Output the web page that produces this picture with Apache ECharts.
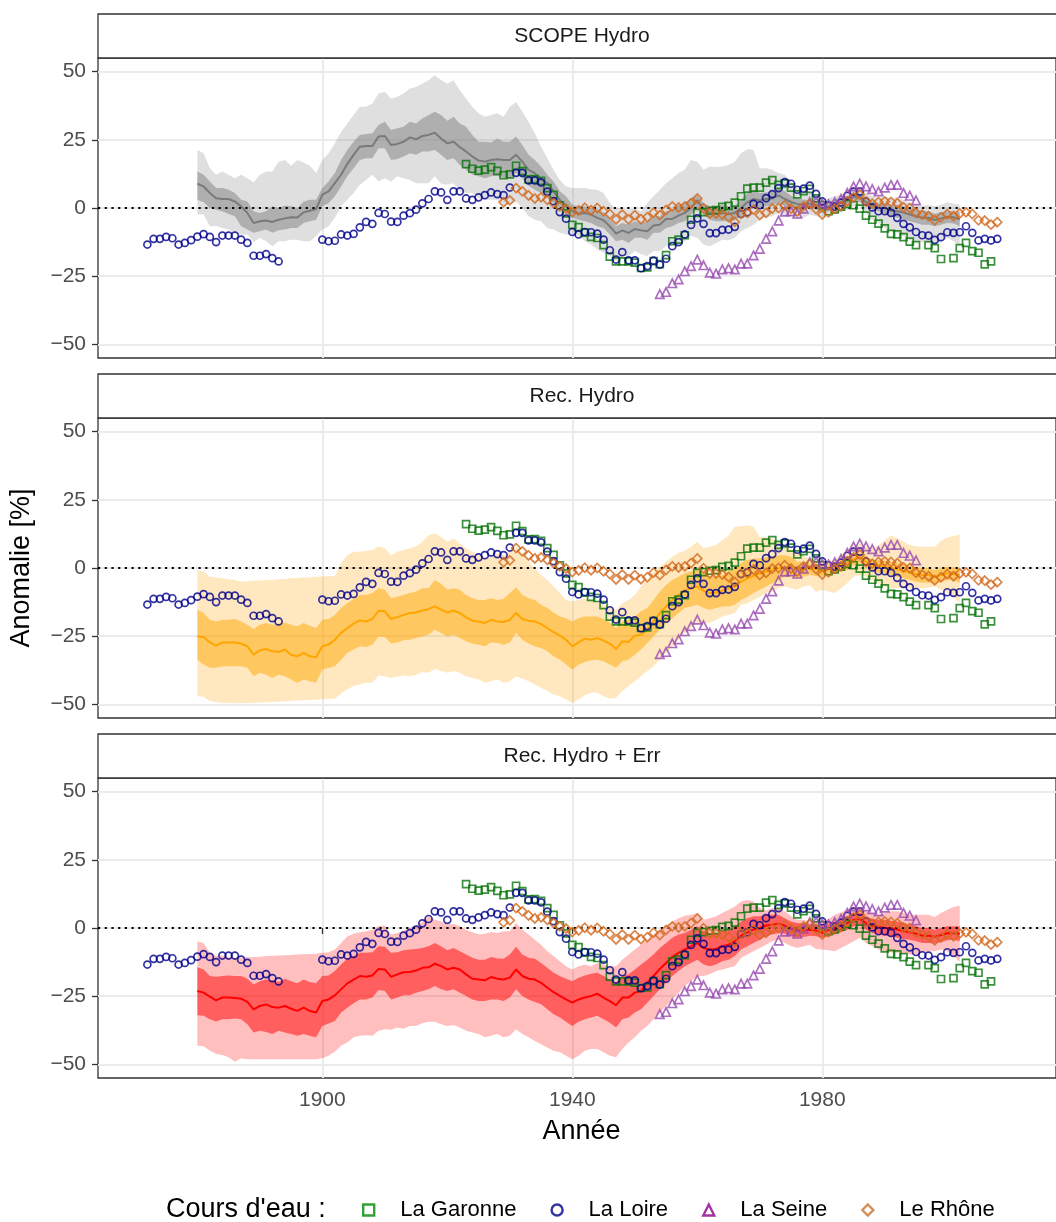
<!DOCTYPE html>
<html><head><meta charset="utf-8">
<script src="https://cdn.jsdelivr.net/npm/echarts@6/dist/echarts.min.js"></script>
<style>html,body{margin:0;padding:0;background:#fff}#c{width:1056px;height:1222px}</style>
</head><body><div id="c"></div>
<script>
// ---------------- DATA ----------------
const panelTitles = ['SCOPE Hydro', 'Rec. Hydro', 'Rec. Hydro + Err'];
const riverNames = ['La Garonne', 'La Loire', 'La Seine', 'Le Rhône'];
const xTicks = [1900, 1940, 1980];
const yTicks = [-50, -25, 0, 25, 50];

// Ensemble bands, yearly from 1880 to 2002
const BAND_START = 1880;

// Panel 1 : SCOPE Hydro
const scopeOuterLow = [
 -2.4,-2.4,-6.7,-6.7,-7.3,-7.9,-9.1,-9.7,-9.7,-12.5,
 -10.9,-12.2,-14.0,-12.2,-12.2,-11.6,-11.6,-12.2,-12.2,-10.3,
 -7.9,-6.7,-3.6,0.6,3.0,5.5,8.5,10.3,12.2,9.7,
 10.9,9.7,11.6,10.9,10.3,9.1,9.1,9.1,11.6,8.9,
 8.5,9.1,6.1,5.5,5.5,3.6,3.0,3.0,3.0,0.6,
 1.2,2.4,0.0,-3.0,-4.3,-4.9,-7.3,-7.9,-9.1,-9.7,
 -9.7,-10.3,-12.2,-13.4,-15.2,-16.4,-17.6,-19.5,-17.6,-17.6,
 -15.8,-17.0,-17.6,-15.8,-15.8,-14.0,-12.8,-13.4,-12.2,-10.3,
 -10.9,-13.4,-14.0,-12.8,-11.6,-11.8,-10.9,-8.5,-7.3,-6.1,
 -4.3,-3.6,-3.0,-1.8,-3.0,-3.0,-4.0,-3.6,-2.4,-3.0,
 -3.6,-3.0,-2.4,-1.6,-0.6,0.6,0.6,-1.8,-4.3,-5.5,
 -7.3,-8.5,-9.1,-10.3,-11.6,-12.2,-12.5,-12.8,-13.4,-12.2,
 -10.9,-12.2,-14.0];
const scopeInnerLow = [
 3.0,2.1,0.0,-0.6,-1.2,-2.2,-3.0,-6.7,-7.9,-9.1,
 -8.5,-7.9,-9.1,-8.2,-7.9,-7.3,-7.3,-5.5,-4.9,-4.3,
 0.6,1.8,4.3,7.9,11.6,14.6,17.6,18.2,18.2,21.9,
 21.9,17.6,18.0,18.9,20.1,19.5,20.7,20.7,21.3,19.5,
 17.6,18.2,15.8,14.0,12.2,11.6,10.9,11.6,11.8,10.9,
 10.9,12.8,10.9,8.2,6.7,5.5,3.6,1.8,0.0,-1.8,
 -3.6,-4.3,-4.9,-5.5,-6.7,-7.3,-9.7,-12.2,-11.6,-12.8,
 -10.9,-10.9,-11.6,-9.1,-9.1,-7.3,-6.7,-5.5,-4.9,-2.4,
 0.0,-2.4,-4.3,-4.9,-4.9,-4.9,-4.5,-3.0,-1.2,0.0,
 0.0,0.6,0.9,1.8,0.6,0.0,-0.9,-0.6,0.0,-0.6,
 -1.8,-1.2,-0.4,0.6,1.2,2.4,2.4,0.6,-0.6,-1.2,
 -2.1,-3.0,-3.6,-4.0,-4.9,-5.5,-6.1,-6.1,-6.7,-6.1,
 -5.5,-5.7,-6.7];
const scopeMedian = [
 8.9,7.9,5.5,3.6,3.3,3.3,2.4,0.6,-1.8,-5.5,
 -4.9,-4.6,-5.1,-4.3,-3.8,-3.4,-3.5,-1.6,-1.0,-0.4,
 4.9,6.1,9.1,12.2,16.2,19.5,22.5,22.7,22.7,26.2,
 26.4,23.1,23.5,24.3,25.9,25.2,26.4,26.8,27.6,25.5,
 23.7,24.3,22.3,20.7,18.9,17.4,17.0,17.6,17.9,17.6,
 17.6,19.5,17.0,14.0,12.8,10.3,9.1,6.1,3.0,0.6,
 -1.2,-2.1,-1.8,-2.4,-3.6,-4.5,-6.7,-9.4,-8.2,-9.1,
 -7.7,-8.2,-8.5,-6.4,-6.1,-4.0,-4.0,-2.8,-1.8,0.0,
 2.8,-0.4,-1.8,-2.1,-1.8,-2.2,-1.8,0.0,2.1,3.3,
 2.8,3.3,3.5,4.6,3.3,2.2,1.5,1.2,1.6,1.0,
 0.0,0.6,1.3,2.1,2.8,4.0,4.0,2.1,1.0,0.4,
 -0.1,-0.9,-1.2,-1.7,-2.4,-3.0,-3.6,-3.6,-4.4,-3.8,
 -3.3,-3.4,-4.1];
const scopeInnerHigh = [
 13.4,12.2,9.7,7.3,7.3,6.7,5.5,3.0,2.4,-1.2,
 -1.8,-1.2,0.6,0.0,0.9,0.6,0.0,2.4,3.0,3.0,
 7.3,9.7,12.8,17.6,21.3,24.3,26.8,27.1,27.4,30.4,
 31.6,28.6,29.2,29.8,31.6,31.0,32.8,34.1,35.3,34.1,
 32.0,33.5,31.0,29.8,26.8,24.3,24.3,24.0,25.5,24.3,
 24.3,26.2,23.1,19.5,17.6,15.2,12.2,9.7,6.1,4.3,
 1.2,0.6,0.6,0.0,-0.4,-1.6,-4.0,-6.7,-5.5,-6.1,
 -4.9,-5.5,-4.9,-3.0,-3.0,-1.2,-0.6,1.2,1.8,3.6,
 4.9,1.8,0.6,0.6,1.2,0.6,0.6,3.0,5.5,6.7,
 5.5,5.7,6.1,7.3,6.1,4.5,3.6,3.0,3.0,2.4,
 1.8,2.4,3.0,3.6,4.3,5.5,5.5,3.6,2.4,1.8,
 1.8,1.2,1.2,0.6,0.0,-0.6,-1.2,-1.2,-2.1,-1.6,
 -1.2,-1.2,-1.6];
const scopeOuterHigh = [
 21.3,20.1,14.6,12.2,13.4,12.2,10.9,12.2,10.9,9.4,
 12.2,13.4,13.4,17.0,17.6,15.5,17.6,16.7,15.5,12.8,
 17.6,20.1,23.7,28.0,31.0,34.1,37.1,37.1,38.3,42.0,
 42.6,40.1,40.8,42.0,43.8,44.4,45.6,46.8,48.7,46.8,
 45.6,46.8,43.2,40.1,37.1,34.7,33.5,34.1,34.7,33.5,
 37.1,38.9,35.3,31.6,27.4,22.5,18.2,14.0,10.3,7.9,
 7.3,7.3,7.3,6.9,6.7,5.5,1.8,0.0,0.0,-0.6,
 0.0,-1.2,1.8,4.3,6.7,9.1,10.9,12.8,14.0,17.6,
 17.0,14.0,15.2,15.0,15.2,15.8,17.0,20.1,21.5,21.3,
 14.6,14.6,14.0,12.8,12.2,9.7,7.3,6.7,6.1,4.9,
 3.0,3.6,4.3,4.9,6.1,7.9,7.3,5.5,4.3,3.6,
 4.3,3.6,4.0,3.0,1.8,1.2,0.6,1.2,0.6,1.2,
 2.1,1.6,1.2];

// Panel 2 : Rec. Hydro
const recOuterLow = [
 -47.0,-47.2,-48.8,-49.1,-49.4,-49.4,-49.6,-49.6,-49.5,-49.4,
 -49.3,-49.2,-49.1,-49.0,-48.9,-48.8,-48.6,-48.5,-48.4,-48.3,
 -48.1,-48.0,-47.9,-46.0,-44.5,-43.3,-42.7,-42.1,-42.1,-39.4,
 -39.7,-40.3,-39.9,-39.4,-39.7,-39.1,-38.2,-38.4,-37.0,-37.8,
 -38.4,-37.8,-38.4,-39.7,-40.3,-40.9,-42.1,-41.5,-40.9,-42.1,
 -41.5,-39.7,-40.6,-41.5,-42.7,-43.9,-45.1,-46.4,-47.0,-48.2,
 -49.4,-48.2,-46.7,-45.7,-45.7,-47.0,-47.9,-47.6,-45.1,-43.3,
 -41.5,-39.7,-37.8,-36.0,-33.6,-31.1,-28.7,-26.3,-23.8,-22.0,
 -20.2,-20.2,-20.2,-19.0,-17.8,-17.2,-16.5,-13.5,-12.9,-11.7,
 -10.5,-9.2,-8.6,-7.4,-6.8,-7.4,-8.0,-6.8,-6.2,-8.7,
 -8.0,-8.6,-9.2,-7.4,-5.6,-3.2,-2.6,-3.2,-4.4,-5.6,
 -6.8,-7.4,-7.4,-7.4,-7.4,-7.4,-7.4,-7.2,-6.8,-8.0,
 -9.2,-10.5,-12.9];
const recInnerLow = [
 -33.6,-35.4,-36.6,-36.6,-36.0,-36.0,-36.0,-36.0,-36.6,-39.7,
 -38.4,-39.1,-40.3,-39.1,-39.7,-40.9,-42.1,-40.9,-41.5,-42.1,
 -37.2,-36.6,-36.0,-33.6,-31.1,-29.9,-28.7,-29.0,-28.1,-25.1,
 -25.3,-27.7,-27.3,-26.5,-26.3,-25.7,-25.1,-24.5,-22.6,-23.8,
 -25.1,-24.5,-25.7,-26.9,-27.7,-28.1,-28.7,-27.3,-27.5,-28.1,
 -27.3,-23.8,-26.3,-27.7,-28.7,-29.3,-30.5,-32.4,-33.6,-35.4,
 -37.2,-35.4,-34.5,-33.8,-33.6,-34.2,-35.4,-36.6,-34.2,-33.6,
 -31.8,-29.9,-27.5,-25.1,-22.6,-20.2,-18.4,-16.5,-14.7,-14.1,
 -13.5,-14.7,-15.3,-14.7,-14.1,-14.1,-13.5,-11.7,-10.5,-9.2,
 -8.0,-6.8,-5.6,-4.4,-3.2,-3.2,-3.8,-3.2,-2.6,-2.9,
 -3.2,-2.6,-1.9,-1.3,-0.7,1.1,1.7,-0.1,-1.3,-1.7,
 -1.9,-2.6,-3.2,-3.8,-4.4,-5.0,-5.4,-5.4,-5.8,-5.0,
 -4.4,-4.6,-5.4];
const recMedian = [
 -25.1,-25.3,-27.3,-28.5,-27.3,-27.3,-27.3,-27.7,-28.7,-31.8,
 -30.2,-29.7,-30.5,-30.8,-29.9,-31.8,-32.4,-31.1,-32.4,-32.7,
 -28.7,-28.1,-26.3,-23.8,-22.0,-20.4,-19.2,-19.6,-18.7,-15.7,
 -15.9,-18.7,-18.0,-17.2,-16.5,-16.3,-15.6,-15.1,-14.1,-15.3,
 -16.3,-15.6,-16.5,-18.1,-19.3,-19.6,-20.2,-19.0,-19.6,-19.8,
 -19.0,-16.5,-18.7,-19.3,-19.6,-20.6,-22.0,-23.5,-24.8,-26.3,
 -28.7,-27.3,-25.9,-26.3,-25.7,-26.6,-27.7,-29.7,-26.9,-27.1,
 -24.8,-24.5,-22.6,-19.6,-16.5,-14.1,-11.7,-9.9,-8.3,-7.4,
 -6.8,-8.3,-9.2,-9.0,-8.3,-7.4,-6.8,-5.0,-3.8,-2.9,
 -2.0,-1.4,-0.8,-0.1,0.5,0.2,-0.7,-0.4,-0.1,-0.5,
 -1.0,-0.5,-0.1,1.1,1.7,3.2,3.9,2.3,1.1,0.9,
 0.5,0.1,-0.5,-1.0,-1.7,-2.2,-2.6,-2.6,-3.2,-2.6,
 -1.9,-2.2,-2.6];
const recInnerHigh = [
 -15.3,-16.5,-19.0,-19.6,-19.0,-19.0,-18.7,-19.6,-20.8,-22.4,
 -20.8,-20.2,-20.8,-20.4,-20.0,-20.8,-21.4,-20.2,-21.2,-22.0,
 -19.0,-18.7,-17.2,-14.7,-12.9,-11.4,-9.9,-9.9,-9.2,-7.4,
 -8.0,-11.1,-10.5,-9.9,-9.2,-8.6,-7.4,-7.4,-4.4,-5.8,
 -8.0,-7.4,-8.0,-9.9,-11.1,-11.7,-11.7,-11.1,-11.7,-11.4,
 -9.2,-7.1,-9.9,-11.1,-11.7,-13.5,-14.7,-16.3,-17.8,-18.4,
 -19.6,-18.4,-17.8,-17.8,-17.8,-18.7,-20.2,-22.0,-19.6,-19.0,
 -17.8,-15.9,-14.7,-11.7,-8.6,-6.2,-4.4,-3.2,-1.9,-1.3,
 -0.7,-1.9,-3.2,-3.2,-2.6,-1.3,-0.1,1.7,2.9,3.5,
 3.5,3.9,4.1,4.7,4.7,4.1,2.3,2.3,1.7,1.5,
 1.1,1.5,1.7,2.9,3.5,4.7,5.4,4.1,2.9,2.9,
 2.7,2.3,1.9,1.5,0.7,0.2,-0.1,-0.1,-0.7,-0.1,
 0.5,0.2,-0.1];
const recOuterHigh = [
 -0.7,-1.3,-3.2,-3.5,-3.8,-4.1,-4.4,-5.0,-4.9,-4.7,
 -4.6,-4.4,-4.3,-4.1,-4.0,-3.8,-3.7,-3.5,-3.4,-3.2,
 -3.1,-2.9,-2.9,1.7,4.7,6.0,6.0,6.3,6.6,8.0,
 7.2,4.7,6.0,6.6,7.2,8.0,9.6,12.0,12.7,11.4,
 9.6,10.8,9.0,7.2,6.0,4.7,3.5,4.1,5.4,4.7,
 6.0,7.8,5.4,2.3,-0.1,-2.6,-4.4,-6.8,-9.2,-11.7,
 -12.3,-11.7,-11.1,-11.7,-12.3,-13.5,-14.1,-15.3,-12.9,-11.7,
 -9.9,-6.8,-4.4,-1.3,0.5,2.3,4.1,5.6,6.3,7.8,
 9.6,7.2,7.8,8.4,10.2,12.0,15.1,15.3,15.7,15.1,
 11.4,11.2,10.8,9.6,7.8,6.8,6.0,4.7,2.9,2.7,
 2.3,2.7,2.9,4.7,6.6,8.0,9.0,8.0,7.2,8.4,
 10.2,12.0,10.8,9.6,8.4,8.0,7.8,7.8,7.8,10.0,
 11.2,11.7,12.3];

// Panel 3 : Rec. Hydro + Err
const errOuterLow = [
 -43.2,-43.4,-45.0,-46.2,-46.6,-47.4,-49.0,-47.8,-48.1,-48.1,
 -48.1,-48.1,-48.1,-48.1,-48.1,-48.1,-48.1,-48.1,-48.1,-48.1,
 -47.8,-46.8,-45.4,-43.2,-42.0,-40.1,-39.5,-39.3,-39.5,-37.7,
 -37.1,-37.3,-36.5,-36.9,-35.9,-35.9,-34.9,-34.4,-34.4,-35.3,
 -35.9,-35.6,-36.5,-37.7,-38.3,-38.9,-40.1,-39.5,-38.9,-40.1,
 -39.5,-37.1,-38.9,-40.1,-41.4,-42.6,-43.8,-45.0,-45.6,-46.8,
 -48.1,-46.8,-45.0,-44.4,-44.4,-45.6,-46.8,-47.4,-44.4,-42.0,
 -40.1,-37.7,-35.9,-33.5,-31.0,-28.6,-26.2,-23.7,-21.3,-19.5,
 -17.6,-17.6,-17.0,-15.8,-15.2,-14.6,-14.0,-10.9,-9.7,-8.5,
 -7.3,-6.1,-4.9,-4.3,-5.5,-6.7,-7.3,-6.7,-6.1,-7.7,
 -7.9,-8.2,-8.5,-7.3,-6.1,-4.9,-3.6,-5.5,-6.7,-7.9,
 -8.5,-8.9,-9.1,-9.1,-9.7,-9.7,-9.1,-8.5,-8.5,-7.9,
 -8.5,-10.3,-12.5];
const errInnerLow = [
 -32.0,-32.2,-33.5,-34.3,-33.5,-33.5,-33.2,-33.5,-35.3,-38.3,
 -37.7,-38.1,-38.9,-37.7,-38.3,-38.9,-39.5,-38.9,-39.5,-40.1,
 -35.9,-35.0,-34.1,-31.0,-29.2,-27.6,-26.2,-26.2,-25.5,-22.7,
 -23.1,-26.2,-25.5,-24.7,-24.7,-23.7,-23.1,-22.5,-21.3,-22.5,
 -23.1,-22.5,-23.7,-24.9,-26.2,-26.8,-26.8,-26.2,-26.2,-26.8,
 -25.5,-22.5,-24.9,-26.2,-27.1,-28.0,-29.8,-31.6,-32.8,-34.4,
 -35.9,-34.4,-33.5,-32.8,-32.2,-33.5,-34.7,-36.5,-33.5,-32.8,
 -31.0,-29.8,-27.4,-24.9,-22.5,-20.1,-17.6,-15.8,-14.0,-12.8,
 -11.6,-13.4,-14.0,-13.4,-12.2,-11.6,-10.3,-7.9,-6.7,-5.5,
 -4.3,-3.0,-2.4,-1.8,-2.1,-3.0,-3.6,-3.3,-2.8,-3.0,
 -3.6,-3.0,-2.4,-1.6,-0.6,0.6,0.9,-0.6,-1.8,-2.4,
 -2.8,-3.0,-3.6,-4.0,-4.3,-4.9,-5.5,-5.5,-5.7,-5.2,
 -4.5,-4.3,-4.9];
const errMedian = [
 -23.1,-23.7,-25.2,-26.5,-25.5,-25.5,-25.7,-25.9,-27.1,-29.8,
 -28.6,-28.0,-29.0,-29.2,-28.6,-29.6,-30.4,-29.2,-30.4,-31.0,
 -26.8,-26.2,-24.7,-22.5,-20.3,-18.9,-17.6,-17.9,-17.4,-15.0,
 -15.2,-17.9,-17.0,-16.2,-16.1,-15.6,-14.6,-14.4,-13.1,-14.0,
 -15.2,-14.6,-15.2,-17.0,-18.6,-18.9,-19.2,-18.0,-18.6,-18.9,
 -18.2,-15.2,-17.6,-18.6,-18.9,-20.1,-21.9,-23.5,-24.9,-26.2,
 -27.4,-26.2,-25.5,-24.9,-24.1,-25.5,-26.8,-28.3,-25.5,-25.5,
 -23.7,-23.1,-20.1,-17.6,-15.0,-12.8,-10.6,-9.1,-7.9,-6.7,
 -5.5,-7.3,-7.9,-7.7,-6.7,-6.1,-4.9,-2.8,-1.6,-0.6,
 0.0,0.9,1.2,1.6,0.9,-0.4,-0.9,-0.9,-0.6,-0.9,
 -1.6,-0.7,0.0,0.9,1.8,3.0,3.3,1.8,0.7,0.4,
 0.1,-0.1,-0.6,-1.1,-1.6,-2.1,-2.8,-2.8,-3.2,-2.6,
 -1.9,-1.8,-2.1];
const errInnerHigh = [
 -14.4,-15.2,-17.6,-17.9,-17.6,-17.4,-17.6,-17.6,-18.6,-20.7,
 -19.5,-18.9,-19.2,-19.8,-18.6,-19.5,-20.3,-18.9,-19.8,-20.3,
 -17.6,-17.4,-15.8,-13.4,-11.3,-10.3,-9.1,-9.1,-8.9,-6.7,
 -6.9,-9.1,-8.9,-8.2,-7.9,-7.7,-7.3,-6.7,-5.5,-6.7,
 -8.2,-7.3,-8.5,-9.7,-10.9,-11.6,-11.6,-10.6,-11.2,-11.3,
 -9.7,-6.9,-9.7,-10.9,-11.3,-12.8,-14.6,-16.4,-17.6,-18.6,
 -19.5,-18.2,-17.4,-16.8,-16.4,-17.6,-18.9,-20.1,-17.6,-17.0,
 -15.2,-13.4,-11.6,-9.7,-7.3,-5.5,-3.6,-2.4,-1.8,-0.6,
 0.6,-1.2,-1.8,-2.1,-1.2,-0.6,0.6,2.4,3.6,4.3,
 4.3,4.9,4.9,4.9,3.6,2.4,1.8,1.6,1.6,1.2,
 0.6,1.6,2.4,3.3,4.3,5.5,5.7,4.3,3.3,3.0,
 3.0,2.7,2.4,1.8,1.2,0.6,0.0,0.0,-0.6,0.0,
 0.6,0.6,0.6];
const errOuterHigh = [
 -4.9,-5.5,-9.1,-10.3,-10.1,-10.6,-10.9,-10.9,-10.7,-10.6,
 -10.5,-10.3,-10.2,-10.1,-10.0,-9.9,-9.7,-9.6,-9.5,-9.4,
 -9.1,-8.9,-7.9,-5.5,-3.0,-2.1,-1.6,-1.2,-0.6,0.6,
 0.9,-2.4,-1.8,-0.9,0.0,0.6,2.4,4.3,3.0,2.4,
 1.2,1.6,0.6,-0.6,-1.6,-2.4,-2.1,-1.5,-1.8,-1.2,
 -1.2,1.8,-0.6,-2.4,-4.3,-6.1,-8.5,-10.3,-12.2,-14.0,
 -15.2,-14.0,-13.4,-14.0,-12.8,-13.4,-14.0,-14.0,-11.6,-9.7,
 -7.9,-6.1,-4.3,-2.4,-0.6,0.6,2.4,3.6,4.5,4.9,
 5.5,3.0,3.6,4.3,5.5,6.7,7.9,9.7,10.3,9.7,
 7.3,6.4,7.3,7.3,6.1,4.3,3.0,3.0,2.4,2.4,
 2.4,3.3,4.9,5.7,6.7,7.9,7.7,6.1,5.5,4.9,
 5.5,6.1,6.1,5.5,4.9,4.9,4.9,4.9,4.0,5.5,
 6.7,7.7,8.2];

// Rivers (observed anomalies, %), yearly; null = missing year
const GARONNE_START = 1923;
const garonne = [
 16.1,14.4,13.7,14.1,15.0,13.6,12.0,12.3,15.5,13.5,
 10.5,10.6,10.0,7.3,4.8,1.0,-2.0,-6.2,-7.0,-9.0,
 -10.6,-11.0,-13.6,-17.8,-19.6,-19.6,-19.6,-20.0,-22.0,-21.8,
 -19.5,-20.6,-17.3,-12.2,-11.6,-10.0,-4.3,-1.8,-1.5,-1.0,
 -0.8,0.4,0.8,2.0,4.3,7.1,7.5,7.5,9.3,10.2,
 8.5,9.0,7.5,5.0,6.2,7.0,3.5,1.0,-1.2,-0.5,
 0.5,1.5,1.0,-0.2,-2.8,-4.3,-5.7,-7.5,-9.5,-9.7,
 -10.7,-12.3,-13.6,null,-13.6,-14.7,-18.7,null,-18.4,-14.7,
 -12.8,-15.8,-16.4,-20.7,-19.6];
const LOIRE_START = 1872;
const loire = [
 -13.4,-11.3,-11.3,-10.6,-11.1,-13.4,-12.8,-11.8,-10.5,-9.6,
 -10.6,-12.5,-10.1,-10.1,-10.1,-11.6,-12.8,-17.5,-17.5,-16.9,
 -18.4,-19.6,null,null,null,null,null,null,-11.6,-12.2,
 -12.0,-9.7,-10.1,-9.5,-7.1,-5.1,-5.8,-1.8,-2.2,-5.0,
 -5.1,-2.8,-1.9,-0.6,1.7,3.3,6.1,5.7,3.0,6.1,
 6.1,3.5,3.0,3.9,4.7,5.7,5.1,4.7,7.5,12.9,
 12.9,10.1,10.1,9.4,6.0,2.5,-1.5,-3.9,-8.8,-9.7,
 -8.8,-8.9,-9.4,-11.6,-15.5,-18.9,-16.2,-19.2,-19.2,-22.1,
 -21.3,-19.3,-20.8,-18.6,-14.0,-12.5,-9.7,-6.2,-3.8,-5.8,
 -9.2,-9.2,-8.0,-7.9,-6.9,-2.2,-1.6,1.5,1.0,3.6,
 5.1,7.3,9.5,8.9,6.7,7.1,8.2,5.2,2.4,1.0,
 0.5,2.0,4.5,6.0,6.0,2.4,0.2,-1.2,-1.2,-1.8,
 -3.6,-5.8,-7.1,-8.8,-10.0,-10.1,-11.7,-10.7,-8.9,-9.1,
 -8.9,-6.7,-9.1,-11.9,-11.3,-11.9,-11.3];
const SEINE_START = 1954;
const seine = [
 -31.6,-30.8,-27.6,-26.2,-23.2,-21.3,-18.9,-21.0,-23.7,-24.1,
 -22.5,-22.1,-22.5,-20.4,-20.4,-17.4,-15.0,-11.3,-8.6,-4.6,
 -1.3,-1.2,-2.1,-0.2,2.1,2.4,1.6,1.3,2.1,3.3,
 5.5,7.9,8.9,7.9,6.9,6.1,7.5,8.5,8.5,5.5,
 4.5,2.8];
const RHONE_START = 1929;
const rhone = [
 2.1,2.8,7.3,6.1,4.6,3.5,3.9,3.0,1.8,0.6,
 -0.2,-1.5,-0.9,0.1,-0.8,0.0,-1.2,-2.2,-4.2,-2.4,
 -4.2,-2.6,-4.1,-3.4,-1.7,-2.6,-0.7,0.6,0.2,0.6,
 1.8,3.5,-0.1,-2.0,-2.0,-2.4,-3.3,-5.1,-2.1,-1.8,
 -0.6,-2.6,-1.8,-0.2,0.0,1.0,-0.2,-1.2,0.6,1.5,
 -0.4,-2.4,-1.6,-0.2,0.6,2.4,3.9,4.9,2.4,1.6,
 2.2,2.4,2.2,1.8,0.2,0.0,-1.8,-2.4,-3.0,-4.5,
 -3.4,-2.2,-3.0,-2.0,-1.6,-2.2,-4.5,-4.6,-6.1,-5.2];

// ---------------- CHART ----------------
const FONT = '"Liberation Sans", Arial, Helvetica, sans-serif';
const X_MIN = 1864.1, X_MAX = 2017.4, Y_MIN = -55, Y_MAX = 55;
const PANEL_LEFT = 98, PANEL_H = 300, STRIP_H = 44, STRIP_W = 968, STRIP_CX = 582;
const PANEL_TOPS = [58, 418, 778];
const BAND_RGB = ['127,127,127', '255,165,0', '255,0,0'];
const MEDIAN_COLORS = ['#7a7a7a', '#ffa500', '#ff0000'];
const RIVER_STARTS = [GARONNE_START, LOIRE_START, SEINE_START, RHONE_START];
const RIVER_VALUES = [garonne, loire, seine, rhone];
const RIVER_SYMBOLS = ['rect', 'circle', 'triangle', 'diamond'];
const RIVER_SIZES = [7, 7, 8.5, 9];
const RIVER_COLORS = ['#0a760a', '#00008b', '#984ab0', '#d2691e'];
const LEGEND_COLORS = ['#008b00', '#00008b', '#8b008b', '#c8702e'];

const bands = [
  [scopeOuterLow, scopeInnerLow, scopeMedian, scopeInnerHigh, scopeOuterHigh],
  [recOuterLow, recInnerLow, recMedian, recInnerHigh, recOuterHigh],
  [errOuterLow, errInnerLow, errMedian, errInnerHigh, errOuterHigh]
];
bands.forEach(b => b.forEach(a => { if (a.length !== 123) throw new Error('band length ' + a.length); }));

function pairs(start, vals) {
  const out = [];
  vals.forEach((v, k) => { if (v !== null) out.push([start + k, v]); });
  return out;
}

// Ribbon: one custom series whose rows are [year, low, high]; drawn as a single polygon
function ribbon(i, lo, hi, fill) {
  const rows = lo.map((v, k) => [BAND_START + k, v, hi[k]]);
  return {
    type: 'custom', xAxisIndex: i, yAxisIndex: i, data: rows, encode: { x: 0, y: [1, 2] },
    silent: true, z: 1, clip: true,
    renderItem: (params, api) => {
      if (params.dataIndex !== 0) return null;
      const upper = rows.map(r => api.coord([r[0], r[2]]));
      const lower = rows.map(r => api.coord([r[0], r[1]])).reverse();
      return { type: 'polygon', shape: { points: upper.concat(lower) }, style: { fill: fill } };
    }
  };
}

const series = [];
bands.forEach((b, i) => {
  const [ol, il, md, ih, oh] = b;
  series.push(ribbon(i, ol, oh, 'rgba(' + BAND_RGB[i] + ',0.25)'));
  series.push(ribbon(i, il, ih, 'rgba(' + BAND_RGB[i] + ',0.5)'));
  series.push({ type: 'line', xAxisIndex: i, yAxisIndex: i, data: pairs(BAND_START, md),
    symbol: 'none', silent: true, z: 3, lineStyle: { color: MEDIAN_COLORS[i], width: 2 },
    markLine: { silent: true, symbol: 'none', animation: false, label: { show: false },
      lineStyle: { color: '#000', width: 2.2, type: [2.2, 4.5], cap: 'butt' },
      data: [{ yAxis: 0 }] } });
  RIVER_VALUES.forEach((vals, r) => {
    series.push({ type: 'scatter', name: riverNames[r], xAxisIndex: i, yAxisIndex: i,
      data: pairs(RIVER_STARTS[r], vals), symbol: RIVER_SYMBOLS[r], symbolSize: RIVER_SIZES[r],
      z: 6, silent: true,
      itemStyle: { color: 'rgba(0,0,0,0)', borderColor: RIVER_COLORS[r], borderWidth: 1.7 } });
  });
});

const graphic = [];
PANEL_TOPS.forEach((t, i) => {
  graphic.push({ type: 'rect', x: PANEL_LEFT, y: t - STRIP_H, z: 10,
    shape: { x: 0, y: 0, width: STRIP_W, height: STRIP_H },
    style: { fill: '#ffffff', stroke: '#333333', lineWidth: 1.3 } });
  graphic.push({ type: 'text', x: STRIP_CX, y: t - STRIP_H / 2, z: 11,
    style: { text: panelTitles[i], fontSize: 21, fontFamily: FONT, fill: '#1a1a1a',
      textAlign: 'center', textVerticalAlign: 'middle' } });
});
graphic.push({ type: 'text', x: 166, y: 1210, z: 11,
  style: { text: "Cours d'eau :", fontSize: 27, fontFamily: FONT, fill: '#000',
    textAlign: 'left', textVerticalAlign: 'middle' } });

const option = {
  animation: false,
  backgroundColor: '#ffffff',
  textStyle: { fontFamily: FONT },
  grid: PANEL_TOPS.map(t => ({ left: PANEL_LEFT, top: t, right: 0, height: PANEL_H,
    show: true, backgroundColor: '#ffffff', borderColor: '#333333', borderWidth: 1.3 })),
  xAxis: PANEL_TOPS.map((t, i) => ({
    type: 'value', gridIndex: i, min: X_MIN, max: X_MAX,
    axisLine: { show: false },
    axisTick: { show: i === 2, customValues: xTicks, length: 6, lineStyle: { color: '#333', width: 1.3 } },
    axisLabel: { show: i === 2, customValues: xTicks, margin: 12, fontSize: 21, color: '#4d4d4d',
      fontFamily: FONT, formatter: v => String(v) },
    splitLine: { show: true, lineStyle: { color: '#ebebeb', width: 2 } },
    name: i === 2 ? 'Année' : '', nameLocation: 'middle', nameGap: 40,
    nameTextStyle: { fontSize: 27, color: '#000', fontFamily: FONT, padding: [0, 0, 0, 9] }
  })),
  yAxis: PANEL_TOPS.map((t, i) => ({
    type: 'value', gridIndex: i, min: Y_MIN, max: Y_MAX,
    axisLine: { show: false },
    axisTick: { show: true, customValues: yTicks, length: 6, lineStyle: { color: '#333', width: 1.3 } },
    axisLabel: { customValues: yTicks, margin: 12, fontSize: 21, color: '#4d4d4d', fontFamily: FONT,
      formatter: v => v < 0 ? '\u2212' + Math.abs(v) : String(v) },
    splitLine: { show: true, lineStyle: { color: '#ebebeb', width: 2 } },
    name: i === 1 ? 'Anomalie [%]' : '', nameLocation: 'middle', nameGap: 63, nameRotate: 90,
    nameTextStyle: { fontSize: 27, color: '#000', fontFamily: FONT }
  })),
  legend: {
    data: riverNames.map((n, r) => ({ name: n,
      itemStyle: { color: 'rgba(0,0,0,0)', borderColor: LEGEND_COLORS[r], borderWidth: 2.4 } })),
    left: 357, top: 1194, itemWidth: 11, itemHeight: 11, itemGap: 34, selectedMode: false,
    textStyle: { fontSize: 22, color: '#000', fontFamily: FONT, padding: [0, 0, 0, 21] }
  },
  graphic: graphic,
  series: series
};

const chart = echarts.init(document.getElementById('c'), null, { renderer: 'canvas' });
chart.setOption(option);
</script>
</body></html>
